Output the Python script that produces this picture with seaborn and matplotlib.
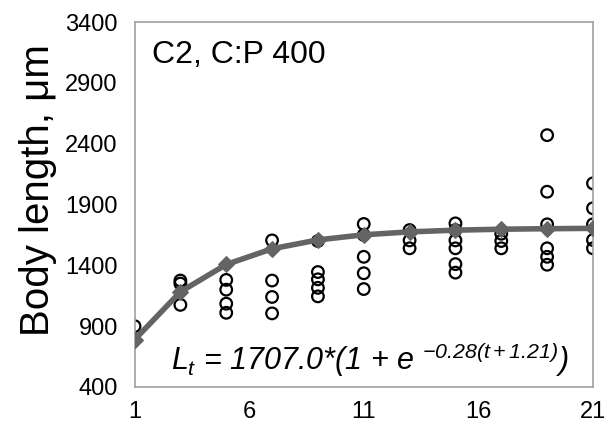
import numpy as np
import pandas as pd
import matplotlib
matplotlib.use("Agg")
import matplotlib.pyplot as plt
import seaborn as sns

# Observed body lengths per day (open circles)
day_1 = [900]
day_3 = [1275, 1250, 1075]
day_5 = [1280, 1200, 1085, 1010]
day_7 = [1605, 1275, 1140, 1005]
day_9 = [1600, 1345, 1285, 1215, 1145]
day_11 = [1740, 1650, 1470, 1335, 1205]
day_13 = [1690, 1605, 1540]
day_15 = [1745, 1690, 1605, 1540, 1410, 1340]
day_17 = [1660, 1600, 1540]
day_19 = [2470, 2005, 1737, 1540, 1470, 1405]
day_21 = [2074, 1869, 1737, 1608, 1540]

# Fitted values (grey diamonds)
fit_days = [1, 3, 5, 7, 9, 11, 13, 15, 17, 19, 21]
fit_length = [788, 1182, 1407, 1536, 1609, 1651, 1675, 1689, 1697, 1701, 1704]

x_ticks = [1, 6, 11, 16, 21]
y_ticks = [400, 900, 1400, 1900, 2400, 2900, 3400]

obs = {1: day_1, 3: day_3, 5: day_5, 7: day_7, 9: day_9, 11: day_11,
       13: day_13, 15: day_15, 17: day_17, 19: day_19, 21: day_21}
df_obs = pd.DataFrame([(d, v) for d, vals in obs.items() for v in vals],
                      columns=["day", "length"])
df_fit = pd.DataFrame({"day": fit_days, "length": fit_length})

sns.set_style("white")
plt.rcParams["font.family"] = ["Liberation Sans", "DejaVu Sans"]
plt.rcParams["text.color"] = "black"
plt.rcParams["axes.labelcolor"] = "black"
plt.rcParams["mathtext.fontset"] = "custom"
plt.rcParams["mathtext.rm"] = "Liberation Sans:italic"
plt.rcParams["mathtext.it"] = "Liberation Sans:italic"

fig = plt.figure(figsize=(6.06, 4.36), dpi=100)
ax = fig.add_axes([0.222, 0.1124, 0.7565, 0.8371])

sns.scatterplot(data=df_obs, x="day", y="length", ax=ax, marker="o", s=70,
                facecolor="none", edgecolor="black", linewidth=1.6, zorder=2)
sns.lineplot(data=df_fit, x="day", y="length", ax=ax, color="#646464",
             linewidth=4, marker="D", markersize=8, markeredgecolor="#646464",
             zorder=3)

ax.set_xlim(1, 21)
ax.set_ylim(400, 3400)
ax.set_xticks(x_ticks)
ax.set_yticks(y_ticks)
ax.tick_params(axis="both", labelsize=17, colors="#a0a0a0", length=5,
               width=1, direction="out", labelcolor="black", pad=5)
ax.tick_params(axis="y", pad=7)
for s in ax.spines.values():
    s.set_color("#a0a0a0")
    s.set_linewidth(1.2)

ax.set_xlabel("")
ax.set_ylabel("Body length, μm", fontsize=29)
ax.yaxis.set_label_coords(-0.17, 0.54)

ax.text(1.75, 3130, "C2, C:P 400", fontsize=23, ha="left", va="center")
ax.text(2.6, 630, r"$L_t$ = 1707.0*(1 + e $^{-0.28(t+1.21)}$)",
        fontsize=22, fontstyle="italic", ha="left", va="center")

fig.savefig("out.png", dpi=100)
